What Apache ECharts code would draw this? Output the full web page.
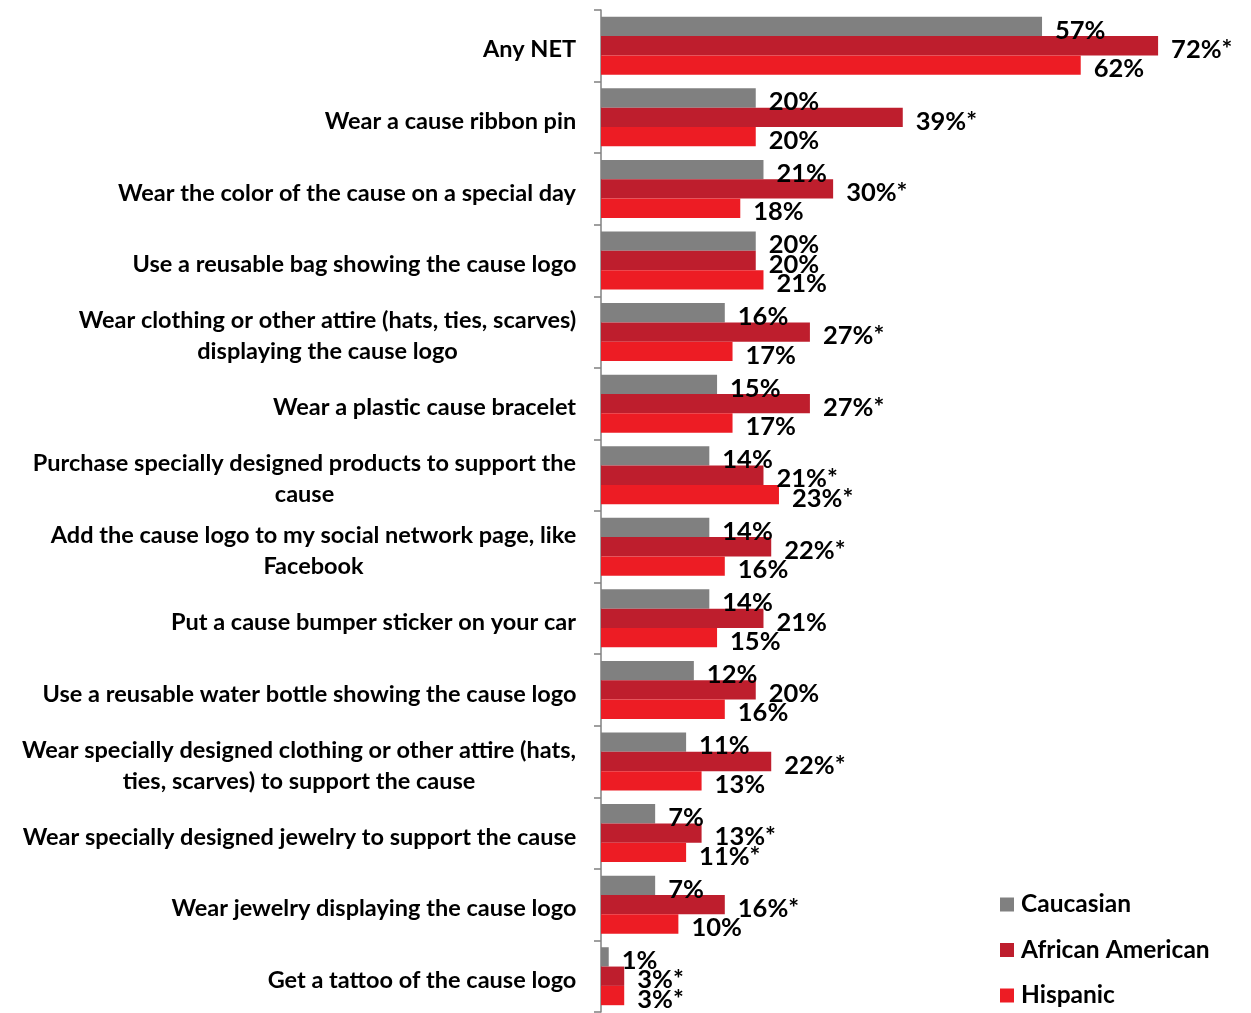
<!DOCTYPE html>
<html>
<head>
<meta charset="utf-8">
<script src="https://cdn.jsdelivr.net/npm/echarts@6/dist/echarts.min.js"></script>
<style>
  html, body { margin: 0; padding: 0; background: #fff; }
  #chart { width: 1251px; height: 1013px; }
</style>
</head>
<body>
<div id="chart"></div>
<script>
// Activities, top to bottom
const categories = [
  'Any NET',
  'Wear a cause ribbon pin',
  'Wear the color of the cause on a special day',
  'Use a reusable bag showing the cause logo',
  'Wear clothing or other attire (hats, ties, scarves)\ndisplaying the cause logo',
  'Wear a plastic cause bracelet',
  'Purchase specially designed products to support the\ncause',
  'Add the cause logo to my social network page, like\nFacebook',
  'Put a cause bumper sticker on your car',
  'Use a reusable water bottle showing the cause logo',
  'Wear specially designed clothing or other attire (hats,\nties, scarves) to support the cause',
  'Wear specially designed jewelry to support the cause',
  'Wear jewelry displaying the cause logo',
  'Get a tattoo of the cause logo'
];

const seriesNames = ['Caucasian', 'African American', 'Hispanic'];

// Percent of each group
const caucasian       = [57, 20, 21, 20, 16, 15, 14, 14, 14, 12, 11, 7, 7, 1];
const africanAmerican = [72, 39, 30, 20, 27, 27, 21, 22, 21, 20, 22, 13, 16, 3];
const hispanic        = [62, 20, 18, 21, 17, 17, 23, 16, 15, 16, 13, 11, 10, 3];

// 1 = significant difference (marked with *)
const caucasianSig       = [0, 0, 0, 0, 0, 0, 0, 0, 0, 0, 0, 0, 0, 0];
const africanAmericanSig = [1, 1, 1, 0, 1, 1, 1, 1, 0, 0, 1, 1, 1, 1];
const hispanicSig        = [0, 0, 0, 0, 0, 0, 1, 0, 0, 0, 0, 1, 0, 1];

const colors = ['#808080', '#BE1E2D', '#ED1C24'];
const FONT = 'Lato';
const WEIGHT = 'bold';
const CAT_SIZE = 23.5;

// Multi-line labels: lines centred within their block, block right-aligned at the axis
const measureCtx = document.createElement('canvas').getContext('2d');
measureCtx.font = WEIGHT + ' ' + CAT_SIZE + 'px ' + FONT;
const rich = {};
categories.forEach(function (c, i) {
  const lines = c.split('\n');
  const w = Math.max.apply(null, lines.map(function (l) { return measureCtx.measureText(l).width; }));
  rich['c' + i] = {
    width: Math.ceil(w) + 1,
    align: 'center',
    fontFamily: FONT,
    fontWeight: WEIGHT,
    fontSize: CAT_SIZE,
    lineHeight: 31,
    color: '#000'
  };
});

function barSeries(name, values, sig, color) {
  return {
    name: name,
    type: 'bar',
    data: values,
    barGap: '0%',
    barCategoryGap: '19%',
    itemStyle: { color: color },
    label: {
      show: true,
      position: 'right',
      distance: 13,
      offset: [0, 4],
      fontFamily: FONT,
      fontWeight: WEIGHT,
      fontSize: 25.5,
      color: '#000',
      formatter: function (p) {
        return values[p.dataIndex] + '%' + (sig[p.dataIndex] ? '*' : '');
      }
    }
  };
}

const chart = echarts.init(document.getElementById('chart'), null, { renderer: 'canvas' });
chart.setOption({
  animation: false,
  backgroundColor: '#fff',
  color: colors,
  grid: { left: 601, top: 10, width: 619, height: 1002, containLabel: false },
  legend: {
    data: seriesNames,
    orient: 'vertical',
    left: 1000,
    top: 892,
    width: 240,
    height: 200,
    padding: 0,
    icon: 'rect',
    itemWidth: 14,
    itemHeight: 14,
    itemGap: 20.5,
    textStyle: {
      fontFamily: FONT,
      fontWeight: WEIGHT,
      fontSize: 24.5,
      lineHeight: 22,
      color: '#000',
      padding: [0, 0, 0, 2]
    }
  },
  xAxis: {
    type: 'value',
    min: 0,
    max: 80,
    show: false
  },
  yAxis: {
    type: 'category',
    data: categories,
    inverse: true,
    axisLine: { show: true, lineStyle: { color: '#808080', width: 1.5 } },
    axisTick: { show: true, length: 7, lineStyle: { color: '#808080', width: 1.5 } },
    axisLabel: {
      margin: 24,
      align: 'right',
      padding: [8, 0, 0, 0],
      rich: rich,
      formatter: function (value, idx) {
        return value.split('\n').map(function (l) { return '{c' + idx + '|' + l + '}'; }).join('\n');
      }
    },
    splitLine: { show: false }
  },
  series: [
    barSeries(seriesNames[0], caucasian, caucasianSig, colors[0]),
    barSeries(seriesNames[1], africanAmerican, africanAmericanSig, colors[1]),
    barSeries(seriesNames[2], hispanic, hispanicSig, colors[2])
  ]
});
</script>
</body>
</html>
